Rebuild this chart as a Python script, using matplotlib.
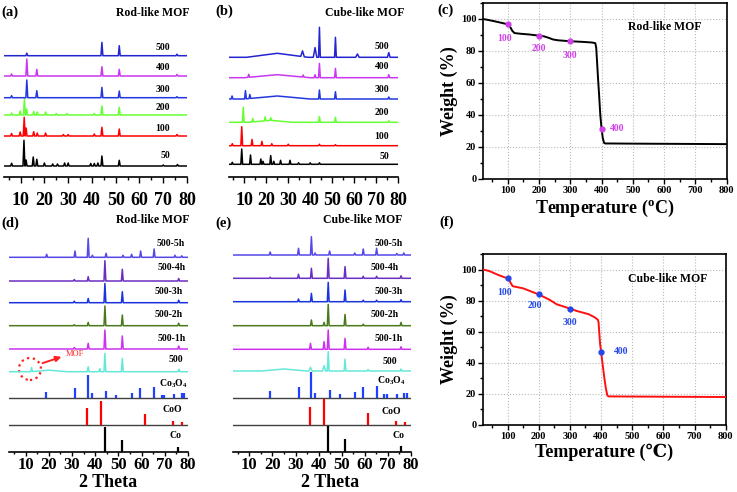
import matplotlib
matplotlib.use('agg')
from matplotlib import pyplot as plt
from matplotlib.ticker import MultipleLocator
from matplotlib.patches import Ellipse

plt.rcParams['font.family'] = ['Liberation Serif', 'DejaVu Serif']
plt.rcParams['font.weight'] = 'bold'
plt.rcParams['mathtext.fontset'] = 'custom'
plt.rcParams['mathtext.rm'] = 'Liberation Serif:bold'
plt.rcParams['mathtext.bf'] = 'Liberation Serif:bold'

# ---------------- data ----------------
# XRD peaks: (2theta, height[, half width])
a50 = [(6.2, 2.7), (11.4, 25.7), (12.3, 6), (15.3, 9), (16.8, 6.7), (20.0, 3), (23.5, 2), (25.5, 2),
       (28.5, 3), (30.0, 3), (39.5, 2.5), (41.0, 2.5), (42.5, 3), (44.2, 10), (51.5, 5.7), (70.0, 1), (76.0, 1.5)]
a100 = [(6.2, 2.5), (9.8, 4), (11.5, 18.7), (12.3, 8), (15.5, 4.3), (17.0, 3), (20.5, 3), (28.0, 1.5),
        (30.0, 1.5), (41.0, 2), (44.2, 8.7), (51.5, 7), (75.8, 1.5)]
a200 = [(6.2, 2), (9.8, 4), (11.6, 16), (12.5, 6), (15.5, 3.5), (17.0, 3), (20.5, 3), (25.0, 1.5),
        (29.5, 1.5), (41.0, 1.5), (44.2, 9), (51.5, 7.7)]
a300 = [(6.2, 2), (12.6, 17.7), (16.8, 7), (44.2, 10.3), (51.5, 6.7), (75.8, 1)]
a400 = [(6.2, 2), (12.6, 17), (16.8, 6.7), (44.2, 9.3), (51.5, 6.7), (75.8, 1.5)]
a500 = [(12.6, 2.5), (44.2, 13.3), (51.5, 10), (75.8, 1.5)]

b50 = [(4.5, 2), (8.8, 15.3), (12.8, 9.3), (17.5, 5.3), (18.5, 3), (22.0, 8.7), (23.4, 3), (26.5, 4),
       (30.8, 4), (34.7, 1.5), (40.0, 1.5), (44.2, 1.5)]
b100 = [(4.5, 2), (8.8, 19), (13.5, 6.3), (18.0, 4.3), (22.5, 2), (30.0, 1.5), (44.2, 1.5), (51.5, 1)]
b200 = [(9.5, 15), (13.8, 3.5), (19.5, 4), (22.0, 2.5), (22.0, 2, 10), (44.2, 5.7), (51.5, 5), (75.8, 1.5)]
b300 = [(4.4, 3), (10.5, 8.3), (12.5, 4), (25.0, 3, 15), (44.2, 9), (51.5, 7.3), (75.8, 2)]
b400 = [(12.0, 3), (25.0, 3, 15), (36.8, 2), (42.2, 3), (44.2, 14.3), (51.5, 9.3), (75.8, 3)]
b500 = [(25.0, 4, 14), (36.5, 5.7, 0.8), (42.2, 9.7, 0.8), (44.2, 30), (51.5, 20), (61.5, 3.3, 0.8),
        (75.8, 4.7, 0.6)]

d500 = [(12.6, 4), (20.0, 1.5, 8), (37.0, 5), (42.0, 3), (44.2, 18.3), (51.7, 13.3), (76.1, 2.5)]
d1h = [(31.0, 1.5), (37.0, 5.7), (44.2, 19), (51.7, 13), (76.0, 3)]
d2h = [(31.0, 1), (37.0, 3.3), (44.2, 19.7), (51.7, 10.7), (76.0, 2.5)]
d3h = [(31.0, 1.5), (37.0, 4.3), (44.2, 19.3), (51.7, 11), (76.0, 2.5)]
d4h = [(31.0, 1.5), (37.0, 4.3), (44.2, 20.3), (51.7, 11.7), (76.0, 2.5)]
d5h = [(19.1, 3), (31.3, 6.3), (37.0, 19), (38.8, 2), (44.7, 4), (52.0, 2), (55.7, 3), (59.6, 6.3),
       (65.4, 8.3), (74.4, 2), (77.3, 1.5)]

e500 = [(25.0, 2, 10), (36.5, 3.7, 0.7), (42.4, 5.3, 0.7), (44.2, 19.3), (51.5, 12), (61.5, 1.5), (75.8, 2)]
e1h = [(36.5, 6), (42.4, 7.7), (44.2, 19.3), (51.5, 11), (61.5, 2), (75.8, 2.5)]
e2h = [(36.9, 5.7), (42.4, 3.3), (44.2, 21.3), (51.5, 11.3), (59.4, 1.5), (75.8, 3.3)]
e3h = [(31.3, 2.7), (36.9, 8.3), (44.2, 19.3), (51.5, 11.7), (59.4, 1.5), (65.2, 1.5), (75.8, 2)]
e4h = [(19.0, 1), (31.3, 4), (36.9, 10), (44.2, 20), (51.5, 11.7), (59.4, 2), (65.2, 2), (75.8, 2.5)]
e5h = [(19.0, 3), (31.3, 6.7), (36.9, 18.3), (38.5, 2), (44.8, 4), (55.7, 2), (59.4, 6), (65.2, 6.7),
       (74.0, 1.5), (77.0, 2)]

# reference sticks
co3o4_pos = [19.0, 31.3, 36.9, 38.5, 44.8, 49.1, 55.7, 59.4, 65.2, 68.6, 69.7, 74.1, 77.3, 78.4]
co3o4_d = [6.7, 10, 23.3, 5, 7.3, 3.3, 5, 10, 11, 3.3, 3.3, 4, 5, 5]
co3o4_e = [7, 11, 25.3, 5, 7.7, 3.7, 5.3, 10.3, 11.7, 3.3, 3.3, 3.7, 5, 5]
coo_pos = [36.5, 42.4, 61.5, 73.7, 77.6]
coo_d = [16.7, 24, 10.7, 4, 3.3]
coo_e = [18.3, 26, 11.7, 4, 3]
co_pos = [44.2, 51.5, 75.8]
co_d = [25, 11.7, 5]
co_e = [26, 12.7, 6]

# TGA
tga_rod_T = [22, 40, 60, 80, 100, 108, 115, 122, 140, 170, 200, 215, 230, 245, 260, 300, 340, 370, 380,
             383, 386, 389, 392, 396, 400, 404, 408, 412, 430, 500, 600, 700, 800]
tga_rod_W = [100, 99.3, 98.5, 97.6, 96.7, 95, 92.5, 91.2, 90.8, 90.3, 89.6, 89.2, 88.3, 87.2, 86.7, 86.1,
             85.7, 85.3, 84.9, 82, 72, 62, 53, 40, 31.5, 25.5, 22.6, 22.2, 22.2, 22.1, 22.0, 21.9, 21.8]
tga_cube_T = [22, 43, 70, 100, 107, 116, 150, 200, 236, 257, 300, 321, 360, 381, 390, 392, 394, 397, 400,
              405, 410, 415, 420, 425, 500, 600, 700, 800]
tga_cube_W = [100, 98.9, 96.5, 94.3, 92.5, 89.3, 87.9, 84.0, 80.4, 77.7, 74.9, 73.4, 71.3, 69.1, 67.6, 66,
              60, 52, 47.2, 39, 31, 24, 19, 18.4, 18.3, 18.2, 18.1, 18.0]
mark_T = [100, 200, 300, 400]
rod_mark_W = [96.7, 89.6, 86.1, 31.5]
cube_mark_W = [94.3, 84.0, 74.9, 47.2]
mark_labels = ['100', '200', '300', '400']

# ---------------- layout helpers (pixel coords) ----------------
W, H = 737, 492
fig = plt.figure(figsize=(W / 100, H / 100), dpi=100)


def rect(l, t, r, b):
    return [l / W, 1 - b / H, (r - l) / W, (b - t) / H]


def ftext(x, y, s, size, **kw):
    fig.text(x / W, 1 - y / H, s, ha=kw.pop('ha', 'center'), va='center', fontsize=size,
             fontweight='bold', **kw)


def profile(peaks):
    xs = {3.0, 80.0}
    for p in peaks:
        hw = p[2] if len(p) > 2 else 0.4
        xs.update([p[0] - hw, p[0], p[0] + hw])
    xs = sorted(xs)
    ys = []
    for x in xs:
        y = 0.0
        for p in peaks:
            hw = p[2] if len(p) > 2 else 0.4
            y += max(0.0, p[1] * (1 - abs(x - p[0]) / hw))
        ys.append(y)
    return xs, ys


def xrd_axes(r, height, pad, size, tick_len):
    ax = fig.add_axes(r)
    ax.set_xlim(3, 80)
    ax.set_ylim(0, height)
    for s in ['left', 'right', 'top']:
        ax.spines[s].set_visible(False)
    ax.spines['bottom'].set_linewidth(1.2)
    ax.set_yticks([])
    ax.set_xticks(range(10, 81, 10))
    ax.xaxis.set_minor_locator(MultipleLocator(5))
    ax.tick_params(axis='x', which='major', direction='out', length=tick_len, width=1,
                   labelsize=size, pad=pad)
    ax.tick_params(axis='x', which='minor', direction='out', length=tick_len * 0.6, width=1)
    return ax


# ---------------- (a) and (b) ----------------
top_colors = ['#000000', '#ff0000', '#66ff33', '#2438e0', '#c838f0', '#2424d0']
top_names = ['50', '100', '200', '300', '400', '500']

ax_a = xrd_axes(rect(4, 25, 187, 177), 152, 7, 13, 4)
offs_a = [11, 41, 62, 79.3, 101, 121.3]
for pk, off, c in zip([a50, a100, a200, a300, a400, a500], offs_a, top_colors):
    x, y = profile(pk)
    ax_a.plot(x, [v + off for v in y], color=c, lw=1.1)
lab_a = [(165, 155), (163, 128), (163, 108), (163, 89), (163, 67), (163, 47)]
for (lx, ly), s in zip(lab_a, top_names):
    ftext(lx, ly, s, 7)

ax_b = xrd_axes(rect(229, 25, 398, 177), 152, 7, 13, 4)
offs_b = [12.7, 31.3, 54.7, 78, 99.3, 119.7]
for pk, off, c in zip([b50, b100, b200, b300, b400, b500], offs_b, top_colors):
    x, y = profile(pk)
    ax_b.plot(x, [v + off for v in y], color=c, lw=1.1)
lab_b = [(384, 156.7), (381.7, 136.7), (381.7, 112.3), (381.7, 89), (381.7, 66.7), (381.7, 46.7)]
for (lx, ly), s in zip(lab_b, top_names):
    ftext(lx, ly, s, 7)

# ---------------- (d) and (e) ----------------
bot_colors = ['#5548e8', '#6a2ec0', '#1a33dd', '#4b7a1e', '#cc33ee', '#66e8d8']
bot_names = ['500-5h', '500-4h', '500-3h', '500-2h', '500-1h', '500',
             r'Co$_\mathbf{3}$O$_\mathbf{4}$', 'CoO', 'Co']


def bottom_panel(r, traces, offs, sticks, labs, xlab_x):
    ax = xrd_axes(r, 219.7, 1, 12, 3)
    for pk, off, c in zip(traces, offs[:6], bot_colors):
        x, y = profile(pk)
        ax.plot(x, [v + off for v in y], color=c, lw=1.1)
    for (pos, h), off, c in zip(sticks, offs[6:], ['#2040ff', '#ff0000', '#000000']):
        if off > 0:
            ax.axhline(off, color='#404040', lw=1)
        ax.vlines(pos, off, [off + v for v in h], color=c, lw=1.6)
    for (lx, ly), s in zip(labs, bot_names):
        ftext(lx, ly, s, 7)
    ftext(xlab_x, 482.5, '2 Theta', 13)
    return ax


ax_d = bottom_panel(rect(9.3, 232, 188, 451.7), [d5h, d4h, d3h, d2h, d1h, d500],
                    [194.4, 170.7, 149, 126, 102.7, 80, 53.4, 26.7, 0],
                    [(co3o4_pos, co3o4_d), (coo_pos, coo_d), (co_pos, co_d)],
                    [(170.7, 243.3), (172, 268), (169, 291.7), (169, 314.3), (171.7, 338.3),
                     (176, 360), (173, 383.3), (172, 409.3), (176, 436)], 108)
ax_d.add_patch(Ellipse((11.9, 82.7), 9.5, 22, fill=False, ec='#ff2020', ls=':', lw=1.6))
ax_d.annotate('', xy=(26.6, 95.7), xytext=(16.2, 87.7),
              arrowprops=dict(arrowstyle='-|>', color='#ff2020', lw=1.4, mutation_scale=8))
ax_d.text(27.3, 98, 'MOF', color='#ff2020', fontsize=6, va='center', ha='left', fontweight='normal')

ax_e = bottom_panel(rect(233.3, 232, 410.7, 451.7), [e5h, e4h, e3h, e2h, e1h, e500],
                    [196.7, 173.4, 150, 126, 102.4, 80.7, 54, 26.7, 0],
                    [(co3o4_pos, co3o4_e), (coo_pos, coo_e), (co_pos, co_e)],
                    [(388.3, 243.3), (385, 267.7), (388.3, 291), (385, 314.3), (388.3, 338.3),
                     (390, 361.7), (391.7, 381), (391.7, 411.7), (398.3, 436)], 330)


# ---------------- (c) and (f) TGA ----------------
def tga_axes(r, T, Wt, lc, mW, mc, offsets, xlabel):
    ax = fig.add_axes(r)
    ax.plot(T, Wt, color=lc, lw=1.4, zorder=3)
    ax.plot(mark_T, mW, 'o', color=mc, ms=3.5, zorder=4)
    for t, w, s, (dx, dy) in zip(mark_T, mW, mark_labels, offsets):
        ax.annotate(s, (t, w), xytext=(dx, dy), textcoords='offset points', color=mc,
                    fontsize=7, fontweight='bold', ha='left' if dx > 5 else 'center', va='center')
    ax.set_xlim(22, 800)
    ax.set_ylim(0, 110)
    ax.set_xticks(range(100, 801, 100))
    ax.set_yticks(range(0, 101, 20))
    ax.xaxis.set_minor_locator(MultipleLocator(50))
    ax.yaxis.set_minor_locator(MultipleLocator(10))
    ax.grid(True, which='major', ls=':', color='#b8b8b8', lw=0.8)
    ax.tick_params(which='major', direction='out', length=3.5, width=1, labelsize=7.5, pad=1.5)
    ax.tick_params(which='minor', direction='out', length=2, width=1)
    for s in ax.spines.values():
        s.set_linewidth(1.2)
    ax.set_ylabel('Weight (%)', fontsize=13, fontweight='bold', labelpad=2)
    ax.set_xlabel(xlabel, fontsize=13, fontweight='bold', labelpad=2)
    return ax


tga_axes(rect(483.3, 3, 726.7, 179), tga_rod_T, tga_rod_W, '#000000', rod_mark_W, '#d040e8',
         [(-2, -10), (0, -9.5), (0, -10), (6, 0)], r'Temperature ($\mathbf{^o}$C)')
tga_axes(rect(483.3, 254, 725.7, 425), tga_cube_T, tga_cube_W, '#ff1010', cube_mark_W, '#2448e8',
         [(-2, -10), (-3, -8), (0, -10), (9, 0)], 'Temperature (\u2103)')

# ---------------- panel letters and titles ----------------
for x, y, s in [(10, 12, '(a)'), (224, 11, '(b)'), (445, 10, '(c)'),
                (10, 223, '(d)'), (223, 223, '(e)'), (447, 222, '(f)')]:
    ftext(x, y, s, 10.5)
for x, y, s in [(153, 13, 'Rod-like MOF'), (365, 13, 'Cube-like MOF'), (153, 220, 'Rod-like MOF'),
                (363, 220, 'Cube-like MOF'), (665, 27, 'Rod-like MOF'), (668, 279, 'Cube-like MOF')]:
    ftext(x, y, s, 8.5)

fig.savefig('out.png', dpi=100)
